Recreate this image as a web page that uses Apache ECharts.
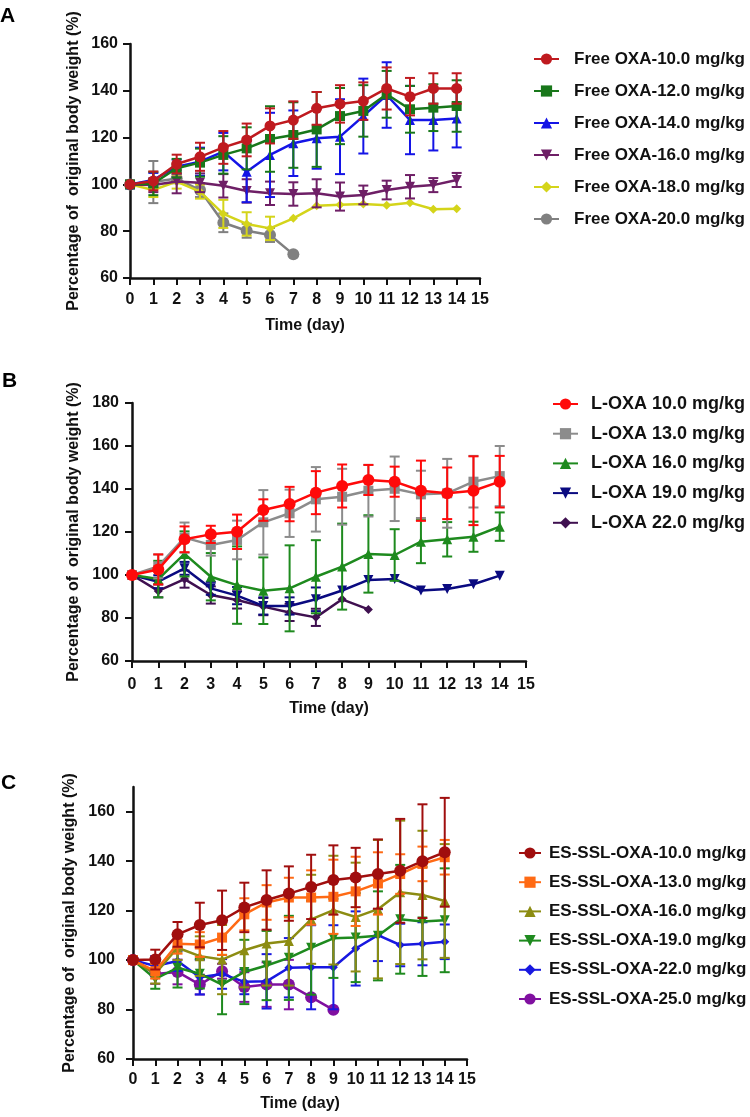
<!DOCTYPE html>
<html><head><meta charset="utf-8">
<script src="https://cdn.jsdelivr.net/npm/echarts@6/dist/echarts.min.js"></script>
<style>html,body{margin:0;padding:0;background:#fff}#chart{width:750px;height:1117px}</style>
</head><body><div id="chart"></div>
<script>
// ---------- data ----------
const days = [0,1,2,3,4,5,6,7,8,9,10,11,12,13,14];
const xTicks = [0,1,2,3,4,5,6,7,8,9,10,11,12,13,14,15];
const yTicksA = [60,80,100,120,140,160];
const yTicksB = [60,80,100,120,140,160,180];
const yTicksC = [60,80,100,120,140,160];

// Panel A
const namesA = ['Free OXA-10.0 mg/kg','Free OXA-12.0 mg/kg','Free OXA-14.0 mg/kg','Free OXA-16.0 mg/kg','Free OXA-18.0 mg/kg','Free OXA-20.0 mg/kg'];
const freeOxa10 = [100,101.5,108.7,111.8,115.8,119,125,127.5,132.5,134.4,135.6,141,137.5,141,141];
const freeOxa10Err = [0,4,4,6,7,7,7.5,8,7,8,8,9,8,6.5,6.5];
const freeOxa12 = [100,100.4,106.9,109.3,112.6,115.4,119.4,121.1,123.5,129.2,131.4,138.5,132.1,132.8,133.5];
const freeOxa12Err = [0,5,4,6,8,9,14,14,16,12,11,10,10,10,11];
const freeOxa14 = [100,101.9,107.6,109.7,114,105.4,112.6,117.6,119.7,120.4,129.2,138.2,127.5,127.5,128.2];
const freeOxa14Err = [0,3,3,6,8,13,18,14,13,16,16,14,14.6,13,12.4];
const freeOxa16 = [100,99.7,101.2,100.7,99.4,97.2,96.2,95.9,96.2,94.8,95.5,97.6,99,99.7,101.9];
const freeOxa16Err = [0,3,5,4,5,5,5,5,6,6,4,4,5,3,3];
const freeOxa18 = [100,97.6,101.2,96.9,87.4,83.1,81.2,85.5,90.9,91.3,91.6,91.1,92.2,89.4,89.6];
const freeOxa18Err = [0,3,3,3,6,5,5,0,0,0,0,0,0,0,0];
const freeOxa20 = [100,101,102.5,97.6,83.6,80.2,78.4,70.1];
const freeOxa20Err = [0,9,2,3,4,3,3,0];

// Panel B
const namesB = ['L-OXA 10.0 mg/kg','L-OXA 13.0 mg/kg','L-OXA 16.0 mg/kg','L-OXA 19.0 mg/kg','L-OXA 22.0 mg/kg'];
const lOxa10 = [100,102.6,116.6,118.9,120.1,130.2,133,138.3,141.4,144.2,143.4,139.2,138,139.2,143.4];
const lOxa10Err = [0,7,6,4,8,5,8,10,10,7,7,14,12,16,12];
const lOxa13 = [100,104,117.4,114,116.3,124.5,128.7,135.2,136.4,139.2,140.1,137.5,138,143.4,146];
const lOxa13Err = [0,5.5,7,5,9,15,11,15,13,12,15,11,16,12,14];
const lOxa16 = [100,98.1,109.8,99.2,95.3,92.7,93.8,99.2,103.9,109.8,109.3,115.5,116.6,117.8,122.5];
const lOxa16Err = [0,8.5,10.5,11,18,15.5,20,17,20,18,12,10,8,7,6.6];
const lOxa19 = [100,96.9,103.1,93.8,90.4,85.6,85.6,88.7,92.8,97.7,98.1,92.8,93.5,95.7,99.7];
const lOxa19Err = [0,3,3,3,4,4,4,5.5,0,0,0,0,0,0,0];
const lOxa22 = [100,92.6,98.1,90.7,88.4,85.3,82.6,80.3,88.7,84];
const lOxa22Err = [0,3,4,4,4,4,4,4,0,0];

// Panel C
const namesC = ['ES-SSL-OXA-10.0 mg/kg','ES-SSL-OXA-13.0 mg/kg','ES-SSL-OXA-16.0 mg/kg','ES-SSL-OXA-19.0 mg/kg','ES-SSL-OXA-22.0 mg/kg','ES-SSL-OXA-25.0 mg/kg'];
const es10 = [100,100.2,110.4,114.2,116.1,121.3,124.3,126.9,129.6,132.4,133.4,134.8,136.1,140,143.6];
const es10Err = [0,4,5,9,12,10,12,11,13,14,12,14,21,23,22];
const es13 = [100,95.5,106.6,106.3,109.1,118.5,123.3,125.3,125.3,125.6,127.8,131,134.8,138.9,141.6];
const es13Err = [0,3,4,5,7,6.5,7,8,11,15,14,12.6,8,7,7];
const es16 = [100,94.5,105,101.6,100.2,104,106.7,107.7,116.5,120.2,117.4,120.6,127.4,126.3,123.9];
const es16Err = [0,4,5,8,14,15,17,18,18,22,22,28,29,26,23];
const es19 = [100,92.4,96.9,94.5,90.1,95.2,97.8,100.9,105,108.8,109.1,109.8,116.5,115.6,116.1];
const es19Err = [0,4,8,6,12,13,14,17,19,16,18,18,22,22,21];
const es22 = [100,97.6,99.6,93.1,94.4,91.2,91.4,96.9,97.1,97.1,104.7,110.1,106.1,106.6,107.4];
const es22Err = [0,4,4,7,6,5,11,12,17,17,15,10.5,8.6,8.7,7];
const es25 = [100,94.4,95.2,90.1,95.5,89.1,90.1,90.1,85,79.9];
const es25Err = [0,4,5,4,3,6,9,10,0,0];

// ---------- build ----------
const FONT = '"Liberation Sans", Arial, Helvetica, sans-serif';
const INV_TRI = 'path://M0,0 L10,0 L5,9 Z';
const series = [];

function errRender(color) {
  return function (params, api) {
    const x = api.value(0), y = api.value(1), e = api.value(2);
    if (!e) return null;
    const top = api.coord([x, y + e]), bot = api.coord([x, y - e]);
    const hw = 5;
    const style = { stroke: color, lineWidth: 2 };
    return { type: 'group', children: [
      { type: 'line', shape: { x1: top[0], y1: top[1], x2: bot[0], y2: bot[1] }, style },
      { type: 'line', shape: { x1: top[0] - hw, y1: top[1], x2: top[0] + hw, y2: top[1] }, style },
      { type: 'line', shape: { x1: bot[0] - hw, y1: bot[1], x2: bot[0] + hw, y2: bot[1] }, style }
    ]};
  };
}

function add(g, name, vals, errs, color, symbol, size, z) {
  series.push({
    type: 'custom', name: name + ' SD', xAxisIndex: g, yAxisIndex: g,
    renderItem: errRender(color), encode: { x: 0, y: 1 },
    data: vals.map((v, i) => [days[i], v, errs[i]]), z: z - 1, silent: true
  });
  series.push({
    type: 'line', name, xAxisIndex: g, yAxisIndex: g,
    data: vals.map((v, i) => [days[i], v]),
    symbol, symbolSize: size, showAllSymbol: true,
    lineStyle: { color, width: 2.5 }, itemStyle: { color, borderWidth: 0 },
    z, animation: false
  });
}

add(0, namesA[0], freeOxa10, freeOxa10Err, '#BF1A1F', 'circle', 11, 30);
add(0, namesA[1], freeOxa12, freeOxa12Err, '#18771A', 'rect', 10, 28);
add(0, namesA[2], freeOxa14, freeOxa14Err, '#1414E6', 'triangle', 10, 26);
add(0, namesA[3], freeOxa16, freeOxa16Err, '#6E1F66', INV_TRI, 10, 24);
add(0, namesA[4], freeOxa18, freeOxa18Err, '#D4D41A', 'diamond', 9, 22);
add(0, namesA[5], freeOxa20, freeOxa20Err, '#808080', 'circle', 12, 20);

add(1, namesB[0], lOxa10, lOxa10Err, '#FF0A0A', 'circle', 12, 30);
add(1, namesB[1], lOxa13, lOxa13Err, '#8C8C8C', 'rect', 10, 28);
add(1, namesB[2], lOxa16, lOxa16Err, '#1E8A1E', 'triangle', 10, 26);
add(1, namesB[3], lOxa19, lOxa19Err, '#0A0A80', INV_TRI, 10, 24);
add(1, namesB[4], lOxa22, lOxa22Err, '#3F1050', 'diamond', 9, 22);

add(2, namesC[0], es10, es10Err, '#A00E0E', 'circle', 12, 30);
add(2, namesC[1], es13, es13Err, '#FF6A14', 'rect', 10, 28);
add(2, namesC[2], es16, es16Err, '#8C8C12', 'triangle', 10, 26);
add(2, namesC[3], es19, es19Err, '#1E8A1E', INV_TRI, 10, 24);
add(2, namesC[4], es22, es22Err, '#1818E0', 'diamond', 9, 22);
add(2, namesC[5], es25, es25Err, '#8010A0', 'circle', 12, 20);

const axisLine = { show: true, onZero: false, lineStyle: { color: '#111', width: 2.5 } };
const axisTick = { show: true, length: 7, lineStyle: { color: '#111', width: 2 } };
const label = (size, margin) => ({ fontSize: size, fontWeight: 'bold', color: '#111', fontFamily: FONT, margin });
const nameStyle = { fontSize: 16, fontWeight: 'bold', color: '#111', fontFamily: FONT };

function xAx(g, margin, gap) {
  return { type: 'value', gridIndex: g, min: 0, max: 15, interval: 1, axisLine, axisTick,
    splitLine: { show: false }, axisLabel: label(16, margin),
    name: 'Time (day)', nameLocation: 'middle', nameGap: gap, nameTextStyle: nameStyle };
}
const yName = 'Percentage of  original body weight (%)';

const legendBase = (left, top, gap, size, pad, iw, names) => ({
  orient: 'vertical', left, top, padding: 0, itemWidth: iw, itemHeight: 14, itemGap: gap,
  selectedMode: false, data: names,
  textStyle: { fontSize: size, fontWeight: 'bold', color: '#111', fontFamily: FONT, padding: [0, 0, 0, pad] }
});

const option = {
  backgroundColor: '#fff',
  animation: false,
  title: [
    { text: 'A', left: 0, top: 6, padding: 0, textStyle: { fontSize: 21, fontWeight: 'bold', color: '#000', fontFamily: FONT } },
    { text: 'B', left: 2, top: 371, padding: 0, textStyle: { fontSize: 21, fontWeight: 'bold', color: '#000', fontFamily: FONT } },
    { text: 'C', left: 1, top: 773, padding: 0, textStyle: { fontSize: 21, fontWeight: 'bold', color: '#000', fontFamily: FONT } }
  ],
  grid: [
    { left: 130, top: 44, width: 350, height: 234 },
    { left: 132, top: 403, width: 394, height: 258 },
    { left: 133, top: 787, width: 334, height: 272 }
  ],
  xAxis: [ xAx(0, 14, 40), xAx(1, 16, 40), xAx(2, 13, 37) ],
  yAxis: [
    { type: 'value', gridIndex: 0, min: 60, max: 160, interval: 20, axisLine, axisTick,
      splitLine: { show: false }, axisLabel: label(16, 12),
      name: yName, nameLocation: 'middle', nameRotate: 90, nameGap: 48, nameTextStyle: nameStyle },
    { type: 'value', gridIndex: 1, min: 60, max: 180, interval: 20, axisLine, axisTick,
      splitLine: { show: false }, axisLabel: label(16, 13),
      name: yName, nameLocation: 'middle', nameRotate: 90, nameGap: 45, nameTextStyle: nameStyle },
    { type: 'value', gridIndex: 2, min: 60, max: 170, axisLine,
      axisTick: Object.assign({ customValues: yTicksC }, axisTick),
      splitLine: { show: false }, axisLabel: Object.assign({ customValues: yTicksC }, label(16, 18)),
      name: yName, nameLocation: 'middle', nameRotate: 90, nameGap: 55, nameTextStyle: nameStyle }
  ],
  legend: [
    legendBase(533, 50.5, 15, 17, 10, 25, namesA),
    legendBase(552, 395, 11.7, 18, 8, 25, namesB),
    legendBase(518, 844.5, 12.2, 17, 3, 22, namesC)
  ],
  series
};

const chart = echarts.init(document.getElementById('chart'), null, { renderer: 'canvas' });
chart.setOption(option);
</script>
</body></html>
